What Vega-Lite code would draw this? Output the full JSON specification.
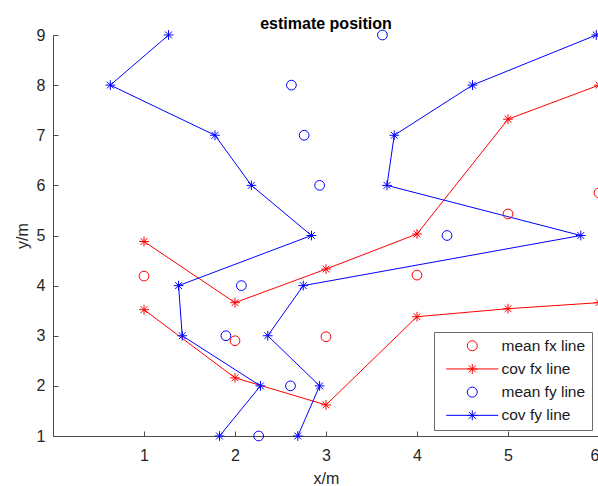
{
  "$schema": "https://vega.github.io/schema/vega-lite/v6.json",
  "autosize": {"type": "none"},
  "padding": {"left": 53, "top": 35, "right": 0, "bottom": 50},
  "width": 546,
  "height": 401,
  "background": "white",
  "config": {
    "view": {"stroke": null},
    "font": "Liberation Sans",
    "axis": {"grid": false, "labelFont": "Liberation Sans", "titleFont": "Liberation Sans", "labelFontSize": 16, "titleFontSize": 16, "titleFontWeight": "normal", "labelColor": "#262626", "titleColor": "#262626", "domainColor": "#4a4a4a", "tickColor": "#4a4a4a", "tickSize": -5}
  },
  "title": {"text": "estimate position", "fontSize": 16, "fontWeight": "bold", "color": "#000000", "anchor": "middle", "offset": -5, "font": "Liberation Sans"},
  "data": {"values": [
    {"series": "cov fx line", "grp": "fx1", "ord": 1, "x": 1, "y": 4.88},
    {"series": "cov fx line", "grp": "fx1", "ord": 2, "x": 2, "y": 3.66},
    {"series": "cov fx line", "grp": "fx1", "ord": 3, "x": 3, "y": 4.33},
    {"series": "cov fx line", "grp": "fx1", "ord": 4, "x": 4, "y": 5.03},
    {"series": "cov fx line", "grp": "fx1", "ord": 5, "x": 5, "y": 7.32},
    {"series": "cov fx line", "grp": "fx1", "ord": 6, "x": 6, "y": 8.0},
    {"series": "cov fx line", "grp": "fx2", "ord": 1, "x": 1, "y": 3.52},
    {"series": "cov fx line", "grp": "fx2", "ord": 2, "x": 2, "y": 2.16},
    {"series": "cov fx line", "grp": "fx2", "ord": 3, "x": 3, "y": 1.62},
    {"series": "cov fx line", "grp": "fx2", "ord": 4, "x": 4, "y": 3.38},
    {"series": "cov fx line", "grp": "fx2", "ord": 5, "x": 5, "y": 3.54},
    {"series": "cov fx line", "grp": "fx2", "ord": 6, "x": 6, "y": 3.66},
    {"series": "cov fy line", "grp": "fy1", "ord": 1, "x": 1.83, "y": 1},
    {"series": "cov fy line", "grp": "fy1", "ord": 2, "x": 2.28, "y": 2},
    {"series": "cov fy line", "grp": "fy1", "ord": 3, "x": 1.42, "y": 3},
    {"series": "cov fy line", "grp": "fy1", "ord": 4, "x": 1.38, "y": 4},
    {"series": "cov fy line", "grp": "fy1", "ord": 5, "x": 2.84, "y": 5},
    {"series": "cov fy line", "grp": "fy1", "ord": 6, "x": 2.18, "y": 6},
    {"series": "cov fy line", "grp": "fy1", "ord": 7, "x": 1.78, "y": 7},
    {"series": "cov fy line", "grp": "fy1", "ord": 8, "x": 0.63, "y": 8},
    {"series": "cov fy line", "grp": "fy1", "ord": 9, "x": 1.27, "y": 9},
    {"series": "cov fy line", "grp": "fy2", "ord": 1, "x": 2.69, "y": 1},
    {"series": "cov fy line", "grp": "fy2", "ord": 2, "x": 2.93, "y": 2},
    {"series": "cov fy line", "grp": "fy2", "ord": 3, "x": 2.36, "y": 3},
    {"series": "cov fy line", "grp": "fy2", "ord": 4, "x": 2.75, "y": 4},
    {"series": "cov fy line", "grp": "fy2", "ord": 5, "x": 5.8, "y": 5},
    {"series": "cov fy line", "grp": "fy2", "ord": 6, "x": 3.67, "y": 6},
    {"series": "cov fy line", "grp": "fy2", "ord": 7, "x": 3.75, "y": 7},
    {"series": "cov fy line", "grp": "fy2", "ord": 8, "x": 4.61, "y": 8},
    {"series": "cov fy line", "grp": "fy2", "ord": 9, "x": 5.97, "y": 9},
    {"series": "mean fx line", "grp": "mx", "ord": 1, "x": 1, "y": 4.19},
    {"series": "mean fx line", "grp": "mx", "ord": 2, "x": 2, "y": 2.9},
    {"series": "mean fx line", "grp": "mx", "ord": 3, "x": 3, "y": 2.98},
    {"series": "mean fx line", "grp": "mx", "ord": 4, "x": 4, "y": 4.21},
    {"series": "mean fx line", "grp": "mx", "ord": 5, "x": 5, "y": 5.43},
    {"series": "mean fx line", "grp": "mx", "ord": 6, "x": 6, "y": 5.85},
    {"series": "mean fy line", "grp": "my", "ord": 1, "x": 2.26, "y": 1},
    {"series": "mean fy line", "grp": "my", "ord": 2, "x": 2.61, "y": 2},
    {"series": "mean fy line", "grp": "my", "ord": 3, "x": 1.9, "y": 3},
    {"series": "mean fy line", "grp": "my", "ord": 4, "x": 2.07, "y": 4},
    {"series": "mean fy line", "grp": "my", "ord": 5, "x": 4.33, "y": 5},
    {"series": "mean fy line", "grp": "my", "ord": 6, "x": 2.93, "y": 6},
    {"series": "mean fy line", "grp": "my", "ord": 7, "x": 2.76, "y": 7},
    {"series": "mean fy line", "grp": "my", "ord": 8, "x": 2.62, "y": 8},
    {"series": "mean fy line", "grp": "my", "ord": 9, "x": 3.62, "y": 9}
  ]},
  "encoding": {
    "x": {"field": "x", "type": "quantitative", "scale": {"domain": [0, 6], "nice": false, "zero": false}, "axis": {"values": [1, 2, 3, 4, 5, 6], "title": "x/m", "labelPadding": 16, "titlePadding": 7}},
    "y": {"field": "y", "type": "quantitative", "scale": {"domain": [1, 9], "nice": false, "zero": false}, "axis": {"values": [1, 2, 3, 4, 5, 6, 7, 8, 9], "title": "y/m", "labelPadding": 13, "titlePadding": 6}},
    "color": {"field": "series", "type": "nominal", "scale": {"domain": ["mean fx line", "cov fx line", "mean fy line", "cov fy line"], "range": ["#ff0000", "#ff0000", "#0000ff", "#0000ff"]}, "title": null,
      "legend": {
        "orient": "none", "legendX": 381, "legendY": 297,
        "padding": 6, "strokeColor": "#6b6b6b", "fillColor": "white",
        "symbolSize": 100, "symbolStrokeWidth": 1, "symbolOpacity": 1, "symbolFillColor": "transparent", "symbolOffset": 24.5, "labelOffset": 21.5,
        "labelFont": "Liberation Sans", "labelFontSize": 15.5, "labelColor": "#1a1a1a", "rowPadding": 6.2, "labelLimit": 200
      }
    }
  },
  "layer": [
    {
      "transform": [{"filter": "indexof(datum.series, 'cov') === 0"}],
      "mark": {"type": "line", "strokeWidth": 1, "clip": false},
      "encoding": {"detail": {"field": "grp"}, "order": {"field": "ord", "type": "quantitative"}}
    },
    {
      "transform": [{"filter": "indexof(datum.series, 'mean') === 0"}],
      "mark": {"type": "point", "shape": "circle", "filled": false, "size": 95, "strokeWidth": 1, "opacity": 1, "clip": false}
    },
    {
      "transform": [{"filter": "indexof(datum.series, 'cov') === 0"}],
      "mark": {"type": "point", "shape": "M0,-1L0,1M-1,0L1,0M-0.7,-0.7L0.7,0.7M-0.7,0.7L0.7,-0.7", "filled": false, "size": 95, "strokeWidth": 1, "opacity": 1, "clip": false}
    },
    {
      "mark": {"type": "point", "filled": false, "size": 1, "strokeWidth": 1, "opacity": 0, "clip": false},
      "encoding": {
        "shape": {"field": "series", "type": "nominal", "title": null,
          "scale": {"domain": ["mean fx line", "cov fx line", "mean fy line", "cov fy line"], "range": ["circle", "M-5.2,0L5.2,0M0,-1L0,1M-1,0L1,0M-0.7,-0.7L0.7,0.7M-0.7,0.7L0.7,-0.7", "circle", "M-5.2,0L5.2,0M0,-1L0,1M-1,0L1,0M-0.7,-0.7L0.7,0.7M-0.7,0.7L0.7,-0.7"]}
        }
      }
    }
  ]
}
